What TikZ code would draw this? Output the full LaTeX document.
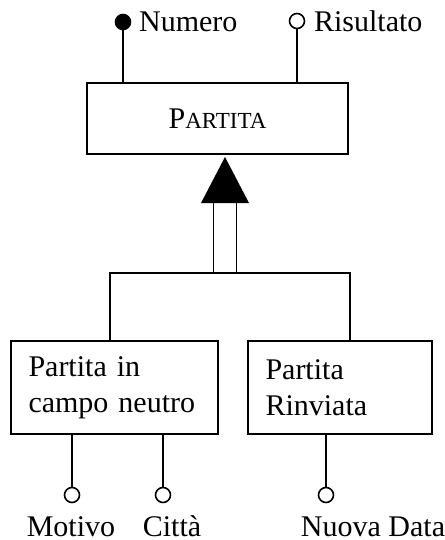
\documentclass[tikz,border=0pt]{standalone}
\usepackage{fontspec}
\setmainfont{Liberation Serif}
\usetikzlibrary{calc,positioning}

\begin{document}
\begin{tikzpicture}[x=0.5pt,y=-0.5pt,line width=0.8pt,
        font=\fontsize{15}{18}\selectfont,
        entita/.style={draw,minimum height=35.5pt},
        sotto/.style={entita,minimum height=46.5pt,align=left},
        attr/.style={draw,circle,minimum size=7.5pt,inner sep=0pt,fill=white},
        nome/.style={inner sep=0pt}]
        \useasboundingbox (0,0) rectangle (444,540);
        \node[entita,minimum width=130.5pt] (partita) at (217.5,118.5)
            {P{\fontsize{11.5}{13}\selectfont ARTITA}};
        \node[sotto,inner xsep=8.75pt,text width=86pt] (neutro) at (114.5,387.5)
            {Partita in\\campo neutro};
        \node[sotto,inner xsep=8.75pt,text width=74.5pt] (rinviata) at (340,387.5)
            {Partita\\Rinviata};

        \node[attr,fill=black] (numero) at (123,22) {};
        \node[attr] (risultato) at (297,21) {};
        \node[nome,right=3.5pt of numero] (numerol) {Numero};
        \node[nome,right=4pt of risultato] (risultatol) {Risultato};
        \foreach \a in {numero,risultato}
        \draw (\a) -- (\a |- partita.north);

        \node[attr] (motivo) at (72,495) {};
        \node[attr] (citta) at (163,495) {};
        \node[attr] (nuovadata) at (326,495) {};
        \node[nome,anchor=base] (motivol) at (71,536) {Motivo};
        \node[nome,anchor=base] (cittal) at (172,536) {Città};
        \node[nome,anchor=base] (nuovadatal) at (373,536) {Nuova Data};
        \foreach \a in {motivo,citta}
        \draw (\a) -- (\a |- neutro.south);
        \draw (nuovadata) -- (nuovadata |- rinviata.south);

        \coordinate (isa) at (225,157);
        \coordinate (base) at (225,203);
        \coordinate (gen) at (225,273);
        \fill (isa) -- ($(base)+(-24,0)$) -- ($(base)+(24,0)$) -- cycle;
        \foreach \d in {-11.5,11.5}
        \draw ($(base)+(\d,0)$) -- ($(gen)+(\d,0)$);
        \draw ([xshift=-2.25pt]neutro.north) |- (gen) -| ([xshift=5pt]rinviata.north);
    \end{tikzpicture}
\end{document}
